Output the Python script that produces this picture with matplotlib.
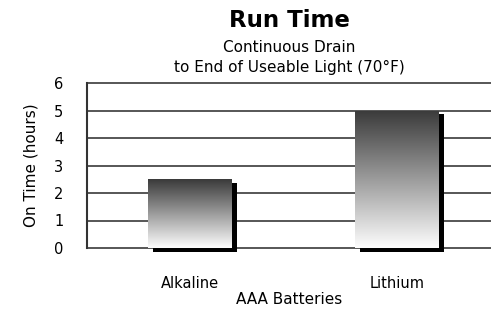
import matplotlib.pyplot as plt
import numpy as np
from matplotlib.colors import LinearSegmentedColormap
from matplotlib.transforms import ScaledTranslation

categories = ['Alkaline', 'Lithium']
run_hours = [2.5, 5.0]
y_ticks = [0, 1, 2, 3, 4, 5, 6]

fig = plt.figure(figsize=(4.91, 3.10), dpi=100)
ax = fig.add_axes([87/491, 62/310, 404/491, 165/310])

x = np.arange(len(categories))
width = 0.405

# black drop shadow, pushed right and down a few pixels
shift = ScaledTranslation(5/100, -3.5/100, fig.dpi_scale_trans)
shadows = ax.bar(x, run_hours, width, color='black', zorder=2)
for s in shadows:
    s.set_transform(ax.transData + shift)
    s.set_clip_on(False)

# gradient fill: dark grey at the top fading to white
bars = ax.bar(x, run_hours, width, color='none', zorder=3)
grad = np.linspace(0, 1, 256).reshape(-1, 1)
cmap = LinearSegmentedColormap.from_list('fade', ['#fdfdfd', '#3a3a3a'])
for b in bars:
    im = ax.imshow(grad, cmap=cmap, aspect='auto', origin='lower',
                   extent=[b.get_x(), b.get_x() + b.get_width(), 0, b.get_height()],
                   zorder=3)
    im.set_clip_path(b)

ax.set_xlim(-0.5, 1.455)
ax.set_ylim(0, 6)
ax.set_yticks(y_ticks)
ax.set_xticks(x)
ax.set_xticklabels(categories)

ax.yaxis.grid(True, color='#3a3a3a', lw=1.2)
ax.set_axisbelow(True)
for gl in ax.get_ygridlines():
    gl.set_clip_on(False)

for side in ['top', 'right', 'bottom']:
    ax.spines[side].set_visible(False)
ax.spines['left'].set_color('#333333')
ax.spines['left'].set_linewidth(1.5)

ax.tick_params(axis='y', length=0, pad=17, labelsize=10.5)
ax.tick_params(axis='x', length=0, pad=20, labelsize=10.5)

ax.set_xlabel('AAA Batteries', fontsize=11, labelpad=1)
ax.set_ylabel('On Time (hours)', fontsize=11, labelpad=11)

fig.text(0.589, 0.935, 'Run Time', ha='center', va='center',
         fontsize=16.5, fontweight='bold')
fig.text(0.589, 0.848, 'Continuous Drain', ha='center', va='center', fontsize=11)
fig.text(0.589, 0.781, 'to End of Useable Light (70°F)', ha='center', va='center',
         fontsize=11)

fig.savefig('out.png', dpi=100)
